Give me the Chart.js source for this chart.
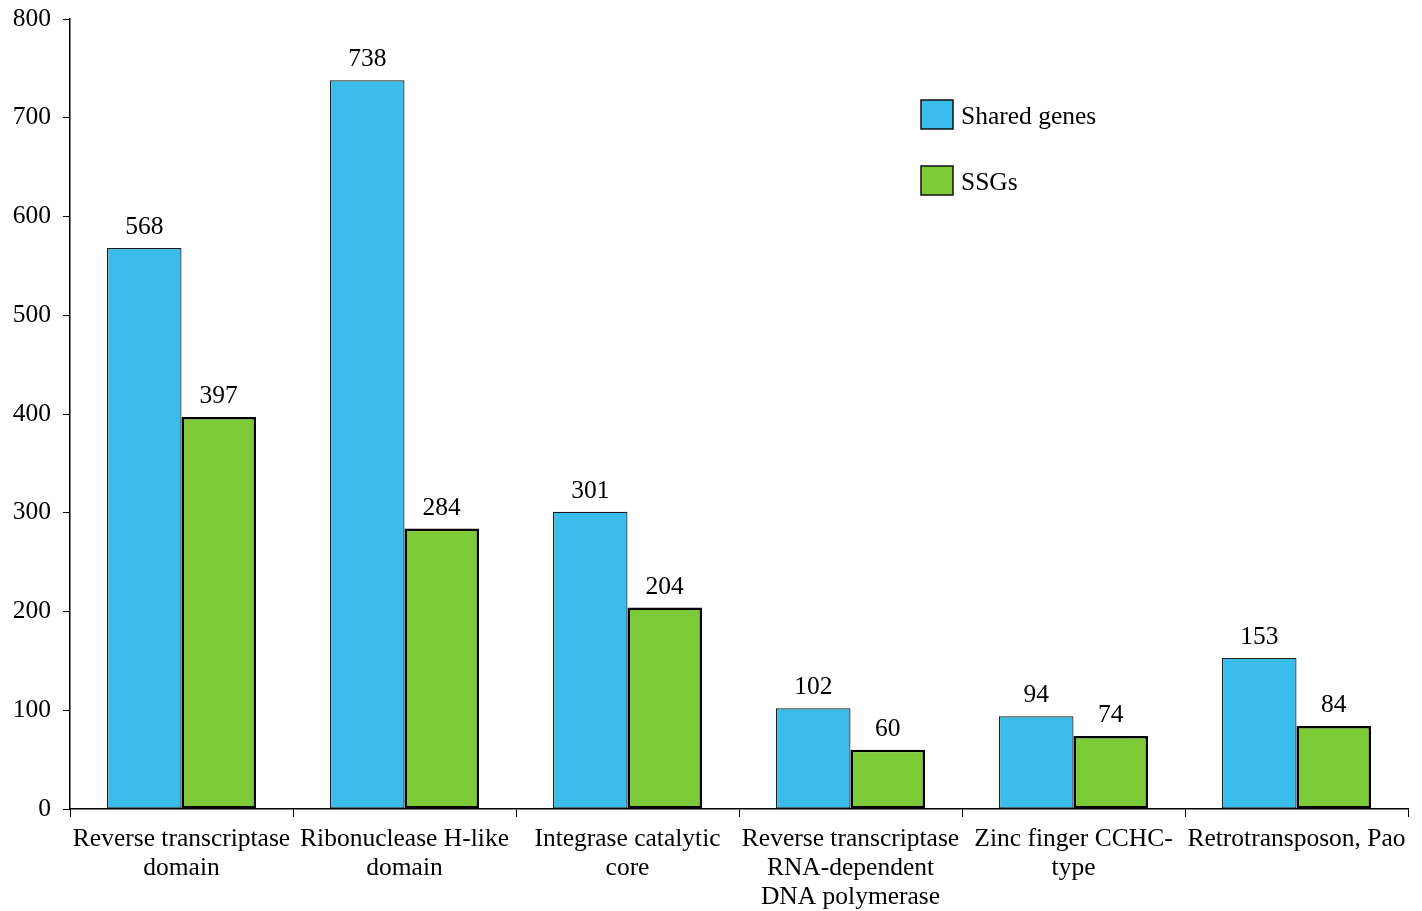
<html lang="en">
<head>
    <meta charset="UTF-8">
    <title>Shared genes vs SSGs</title>
    <style>
        body {
            margin: 0;
            padding: 0;
            background-color: #ffffff;
        }

        .chart-box {
            width: 1422px;
            height: 911px;
        }
    </style>
</head>
<body>
    <div class="chart-box">
        <canvas id="domainChart"></canvas>
    </div>
    <script src="https://cdn.jsdelivr.net/npm/chart.js"></script>
    <script>
        // Domain categories (multi-line tick labels)
        const categories = [
            ['Reverse transcriptase', 'domain'],
            ['Ribonuclease H-like', 'domain'],
            ['Integrase catalytic', 'core'],
            ['Reverse transcriptase', 'RNA-dependent', 'DNA polymerase'],
            ['Zinc finger CCHC-', 'type'],
            ['Retrotransposon, Pao']
        ];

        // Series values
        const sharedGenes = [568, 738, 301, 102, 94, 153];
        const ssgs = [397, 284, 204, 60, 74, 84];

        const FONT = "'Liberation Serif', 'Times New Roman', serif";
        const SIZE = 25.5;

        // Draws the numbers above each bar
        const valueLabels = {
            id: 'valueLabels',
            afterDatasetsDraw(chart) {
                const ctx = chart.ctx;
                ctx.save();
                ctx.font = SIZE + 'px ' + FONT;
                ctx.fillStyle = '#000';
                ctx.textAlign = 'center';
                ctx.textBaseline = 'bottom';
                chart.data.datasets.forEach((ds, i) => {
                    chart.getDatasetMeta(i).data.forEach((bar, j) => {
                        ctx.fillText(ds.data[j], bar.x, bar.y - 8);
                    });
                });
                ctx.restore();
            }
        };

        // Legend drawn inside the plot, top right
        const boxLegend = {
            id: 'boxLegend',
            afterDraw(chart) {
                const ctx = chart.ctx;
                ctx.save();
                ctx.font = SIZE + 'px ' + FONT;
                ctx.textBaseline = 'middle';
                chart.data.datasets.forEach((ds, i) => {
                    const x = 921, y = 100 + i * 66;
                    ctx.fillStyle = ds.backgroundColor;
                    ctx.fillRect(x, y, 32, 29);
                    ctx.lineWidth = 1.5;
                    ctx.strokeStyle = '#111';
                    ctx.strokeRect(x, y, 32, 29);
                    ctx.fillStyle = '#000';
                    ctx.fillText(ds.label, x + 40, y + 17);
                });
                ctx.restore();
            }
        };

        new Chart(document.getElementById('domainChart'), {
            type: 'bar',
            data: {
                labels: categories,
                datasets: [{
                    label: 'Shared genes',
                    data: sharedGenes,
                    backgroundColor: '#3bbdeb',
                    borderColor: '#1a1a1a',
                    borderWidth: 1.2,
                    borderSkipped: false
                }, {
                    label: 'SSGs',
                    data: ssgs,
                    backgroundColor: '#7dcb37',
                    borderColor: '#000',
                    borderWidth: 2.5,
                    borderSkipped: false
                }]
            },
            options: {
                responsive: true,
                maintainAspectRatio: false,
                animation: false,
                categoryPercentage: 0.668,
                barPercentage: 1,
                layout: {
                    padding: { top: 19, right: 14, left: 0, bottom: 0 }
                },
                plugins: {
                    legend: { display: false },
                    tooltip: { enabled: false }
                },
                scales: {
                    x: {
                        grid: {
                            offset: true,
                            drawOnChartArea: false,
                            drawTicks: true,
                            tickLength: 8,
                            color: '#000'
                        },
                        border: { color: '#000', width: 1.5 },
                        ticks: {
                            color: '#000',
                            font: { family: FONT, size: SIZE, lineHeight: 1.14 },
                            maxRotation: 0,
                            autoSkip: false,
                            padding: 8
                        },
                        afterFit(scale) { scale.height = 102; }
                    },
                    y: {
                        min: 0,
                        max: 800,
                        grid: {
                            drawOnChartArea: false,
                            drawTicks: true,
                            tickLength: 7,
                            color: '#000'
                        },
                        border: { color: '#000', width: 1.5 },
                        ticks: {
                            stepSize: 100,
                            color: '#000',
                            font: { family: FONT, size: SIZE },
                            padding: 12
                        },
                        afterFit(scale) {
                            scale.width = 70;
                            scale.paddingTop = 0;
                            scale.paddingBottom = 0;
                        }
                    }
                }
            },
            plugins: [valueLabels, boxLegend]
        });
    </script>
</body>
</html>
